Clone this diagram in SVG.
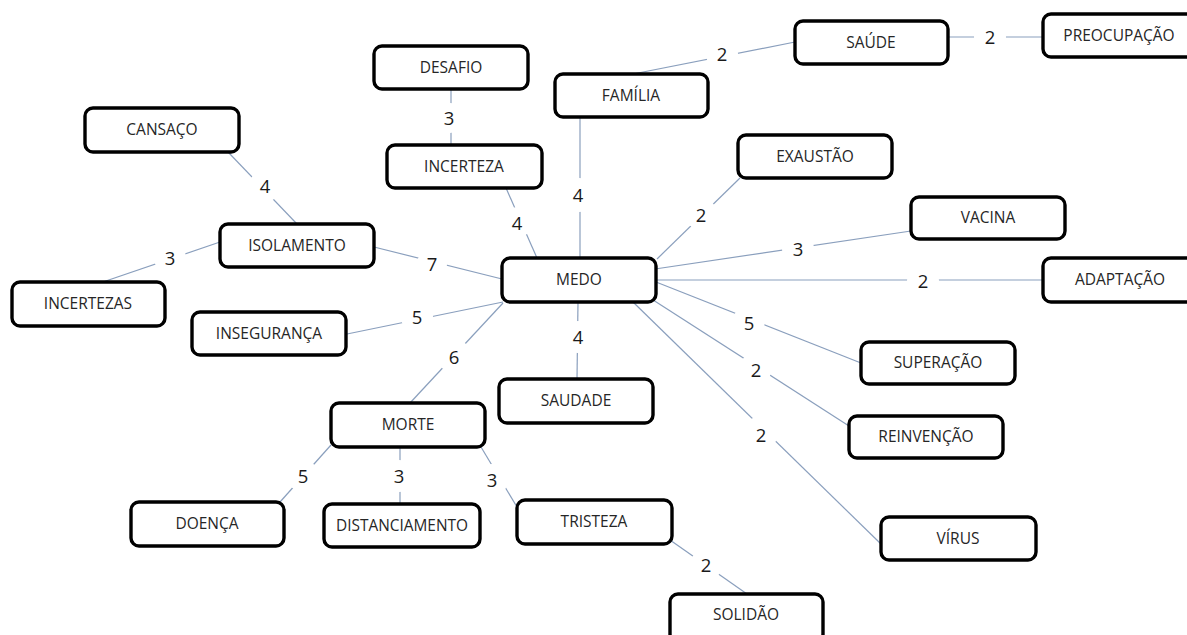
<svg xmlns="http://www.w3.org/2000/svg" width="1187" height="635" viewBox="0 0 1187 635">
<style>
.box{fill:#fff;stroke:#000;stroke-width:3.4}
.lbl{font-family:"Open Sans","Noto Sans",sans-serif;font-size:15.5px;fill:#262626;text-anchor:middle}
.num{font-family:"Open Sans","Noto Sans",sans-serif;font-size:18.5px;fill:#1a1a1a;text-anchor:middle}
.ln{stroke:#8a9fbd;stroke-width:1.2;fill:none}
.gap{fill:#fff}
</style>
<rect width="1187" height="635" fill="#fff"/>
<g id="connectors">
<line class="ln" x1="633" y1="74" x2="795" y2="42"/>
<line class="ln" x1="948" y1="37" x2="1043" y2="37"/>
<line class="ln" x1="451" y1="89" x2="451" y2="145"/>
<line class="ln" x1="506" y1="188" x2="537" y2="258"/>
<line class="ln" x1="580" y1="117" x2="580" y2="258"/>
<line class="ln" x1="740" y1="178" x2="657" y2="259"/>
<line class="ln" x1="911" y1="231" x2="655" y2="269"/>
<line class="ln" x1="656" y1="280" x2="1043" y2="280"/>
<line class="ln" x1="656" y1="282" x2="861" y2="363"/>
<line class="ln" x1="650" y1="298" x2="849" y2="426"/>
<line class="ln" x1="633" y1="302" x2="882" y2="545"/>
<line class="ln" x1="578" y1="302" x2="577" y2="379"/>
<line class="ln" x1="503" y1="303" x2="410" y2="403"/>
<line class="ln" x1="347" y1="334" x2="503" y2="302"/>
<line class="ln" x1="374" y1="247" x2="502" y2="279"/>
<line class="ln" x1="228" y1="152" x2="297" y2="224"/>
<line class="ln" x1="220" y1="242" x2="97" y2="284"/>
<line class="ln" x1="331" y1="445" x2="280" y2="502"/>
<line class="ln" x1="400" y1="447" x2="400" y2="504"/>
<line class="ln" x1="481" y1="447" x2="517" y2="507"/>
<line class="ln" x1="670" y1="540" x2="747" y2="594"/>
<g class="gap">
<circle cx="722" cy="54" r="16"/>
<circle cx="990" cy="37" r="16"/>
<circle cx="450" cy="118" r="15"/>
<circle cx="518" cy="222" r="15"/>
<circle cx="579" cy="195" r="17"/>
<circle cx="701" cy="214" r="16"/>
<circle cx="798" cy="249" r="16"/>
<circle cx="923" cy="281" r="16"/>
<circle cx="749" cy="321" r="16"/>
<circle cx="756" cy="368" r="16"/>
<circle cx="761" cy="433" r="17"/>
<circle cx="578" cy="337" r="16"/>
<circle cx="454" cy="356" r="17"/>
<circle cx="417" cy="317" r="16"/>
<circle cx="432" cy="264" r="15"/>
<circle cx="265" cy="186" r="16"/>
<circle cx="170" cy="258" r="16"/>
<circle cx="303" cy="476" r="16"/>
<circle cx="399" cy="476" r="16"/>
<circle cx="492" cy="480" r="16"/>
<circle cx="706" cy="565" r="16"/>
</g>
<g class="num">
<text x="722" y="61">2</text>
<text x="990" y="44">2</text>
<text x="449" y="125">3</text>
<text x="517" y="230">4</text>
<text x="578" y="202">4</text>
<text x="701" y="222">2</text>
<text x="798" y="256">3</text>
<text x="923" y="288">2</text>
<text x="749" y="330">5</text>
<text x="756" y="377">2</text>
<text x="761" y="442">2</text>
<text x="578" y="344">4</text>
<text x="454" y="364">6</text>
<text x="417" y="324">5</text>
<text x="432" y="271">7</text>
<text x="265" y="193">4</text>
<text x="170" y="265">3</text>
<text x="303" y="483">5</text>
<text x="399" y="483">3</text>
<text x="492" y="487">3</text>
<text x="706" y="572">2</text>
</g>
</g>
<g id="n-desafio"><rect class="box" x="374" y="46" width="154" height="43" rx="8"/><text class="lbl" x="451" y="73">DESAFIO</text></g>
<g id="n-familia"><rect class="box" x="555" y="74" width="153" height="43" rx="8"/><text class="lbl" x="631" y="101">FAMÍLIA</text></g>
<g id="n-incerteza"><rect class="box" x="387" y="145" width="155" height="43" rx="8"/><text class="lbl" x="464" y="172">INCERTEZA</text></g>
<g id="n-medo"><rect class="box" x="502" y="258" width="154" height="44" rx="8"/><text class="lbl" x="579" y="285">MEDO</text></g>
<g id="n-exaustao"><rect class="box" x="738" y="135" width="154" height="43" rx="8"/><text class="lbl" x="815" y="162">EXAUSTÃO</text></g>
<g id="n-saude"><rect class="box" x="795" y="21" width="153" height="43" rx="8"/><text class="lbl" x="871" y="48">SAÚDE</text></g>
<g id="n-preocupacao"><rect class="box" x="1043" y="14" width="154" height="43" rx="8"/><text class="lbl" x="1119" y="41">PREOCUPAÇÃO</text></g>
<g id="n-vacina"><rect class="box" x="911" y="197" width="154" height="42" rx="8"/><text class="lbl" x="988" y="223">VACINA</text></g>
<g id="n-adaptacao"><rect class="box" x="1043" y="258" width="154" height="44" rx="8"/><text class="lbl" x="1120" y="285">ADAPTAÇÃO</text></g>
<g id="n-cansaco"><rect class="box" x="85" y="108" width="154" height="44" rx="8"/><text class="lbl" x="162" y="135">CANSAÇO</text></g>
<g id="n-isolamento"><rect class="box" x="220" y="224" width="154" height="43" rx="8"/><text class="lbl" x="297" y="251">ISOLAMENTO</text></g>
<g id="n-incertezas"><rect class="box" x="12" y="282" width="153" height="44" rx="8"/><text class="lbl" x="88" y="309">INCERTEZAS</text></g>
<g id="n-inseguranca"><rect class="box" x="192" y="312" width="154" height="43" rx="8"/><text class="lbl" x="269" y="339">INSEGURANÇA</text></g>
<g id="n-morte"><rect class="box" x="331" y="403" width="154" height="44" rx="8"/><text class="lbl" x="408" y="430">MORTE</text></g>
<g id="n-saudade"><rect class="box" x="499" y="379" width="154" height="44" rx="8"/><text class="lbl" x="576" y="406">SAUDADE</text></g>
<g id="n-doenca"><rect class="box" x="131" y="502" width="153" height="44" rx="8"/><text class="lbl" x="207" y="529">DOENÇA</text></g>
<g id="n-distanciamento"><rect class="box" x="324" y="504" width="156" height="43" rx="8"/><text class="lbl" x="402" y="531" textLength="132" lengthAdjust="spacingAndGlyphs">DISTANCIAMENTO</text></g>
<g id="n-tristeza"><rect class="box" x="517" y="500" width="155" height="44" rx="8"/><text class="lbl" x="594" y="527">TRISTEZA</text></g>
<g id="n-solidao"><rect class="box" x="670" y="594" width="153" height="48" rx="8"/><text class="lbl" x="746" y="620">SOLIDÃO</text></g>
<g id="n-superacao"><rect class="box" x="861" y="342" width="154" height="42" rx="8"/><text class="lbl" x="938" y="368">SUPERAÇÃO</text></g>
<g id="n-reinvencao"><rect class="box" x="849" y="416" width="154" height="42" rx="8"/><text class="lbl" x="926" y="442">REINVENÇÃO</text></g>
<g id="n-virus"><rect class="box" x="881" y="517" width="155" height="43" rx="8"/><text class="lbl" x="958" y="544">VÍRUS</text></g>
</svg>
